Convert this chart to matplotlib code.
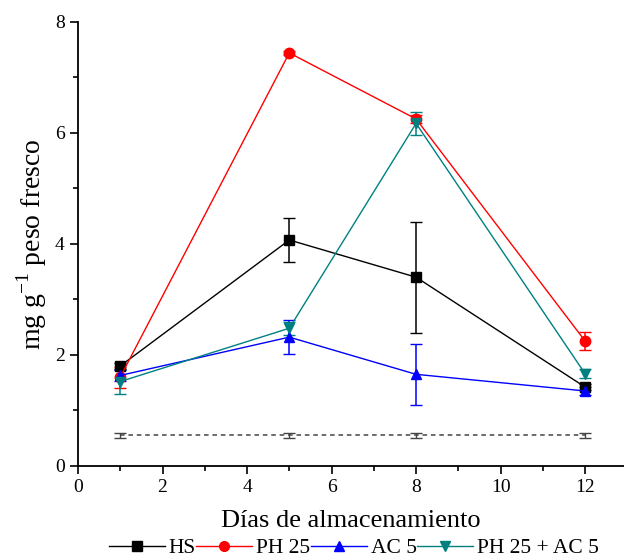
import numpy as np
import matplotlib
matplotlib.use("Agg")
import matplotlib.pyplot as plt
from matplotlib.ticker import MultipleLocator
from matplotlib.lines import Line2D

plt.rcParams['font.family'] = ['Liberation Serif', 'DejaVu Serif']
plt.rcParams['mathtext.fontset'] = 'custom'
plt.rcParams['mathtext.rm'] = 'Liberation Serif'

days = [1, 5, 8, 12]

hs = [1.80, 4.07, 3.40, 1.42]
hs_err = [0.05, 0.40, 1.00, 0.05]

ph25 = [1.60, 7.44, 6.25, 2.25]
ph25_err = [0.19, 0.03, 0.08, 0.17]

ac5 = [1.63, 2.32, 1.65, 1.35]
ac5_err = [0.10, 0.30, 0.55, 0.07]

ph_ac = [1.52, 2.48, 6.17, 1.66]
ph_ac_err = [0.22, 0.12, 0.20, 0.08]

base = [0.55, 0.55, 0.55, 0.55]
base_err = [0.05, 0.05, 0.05, 0.05]

series = [
    (hs, hs_err, 'black', 's', "HS"),
    (ph25, ph25_err, 'red', 'o', "PH 25"),
    (ac5, ac5_err, 'blue', '^', "AC 5"),
    (ph_ac, ph_ac_err, '#008080', 'v', "PH 25 + AC 5"),
]

fig = plt.figure(figsize=(6.24, 5.6), dpi=100)
ax = fig.add_axes([0.125, 0.168, 0.875, 0.793])

ax.errorbar(days, base, yerr=base_err, color='#444444', ls=(0, (3, 2.5)), lw=1.1,
            capsize=4, elinewidth=1, marker='')

handles = []
for vals, err, col, mk, lab in series:
    ax.errorbar(days, vals, yerr=err, color=col, marker=mk, markersize=7.5,
                lw=1.0, capsize=4, elinewidth=1.1)
    handles.append(Line2D([], [], color=col, marker=mk, markersize=7, lw=1.0, label=lab))

ax.set_xlim(0, 12.92)
ax.set_ylim(0, 8)
ax.xaxis.set_major_locator(MultipleLocator(2))
ax.xaxis.set_minor_locator(MultipleLocator(1))
ax.yaxis.set_major_locator(MultipleLocator(2))
ax.yaxis.set_minor_locator(MultipleLocator(1))
ax.spines['top'].set_visible(False)
ax.spines['right'].set_visible(False)
ax.spines['left'].set_linewidth(1.3)
ax.spines['bottom'].set_linewidth(1.3)
ax.tick_params(which='major', direction='out', length=6, width=1.2, labelsize=14)
ax.tick_params(which='minor', direction='out', length=3.5, width=1.2)

ax.set_xlabel("Días de almacenamiento", fontsize=19, labelpad=10)
ax.set_ylabel("mg g$^{-1}$ peso fresco", fontsize=20, labelpad=4)

fig.legend(handles=handles, loc='lower center', bbox_to_anchor=(0.567, -0.012), ncol=4,
           frameon=False, fontsize=15.5, handlelength=2.6, handletextpad=0.2,
           columnspacing=0.0, borderaxespad=0.0)

fig.savefig("out.png", dpi=100)
